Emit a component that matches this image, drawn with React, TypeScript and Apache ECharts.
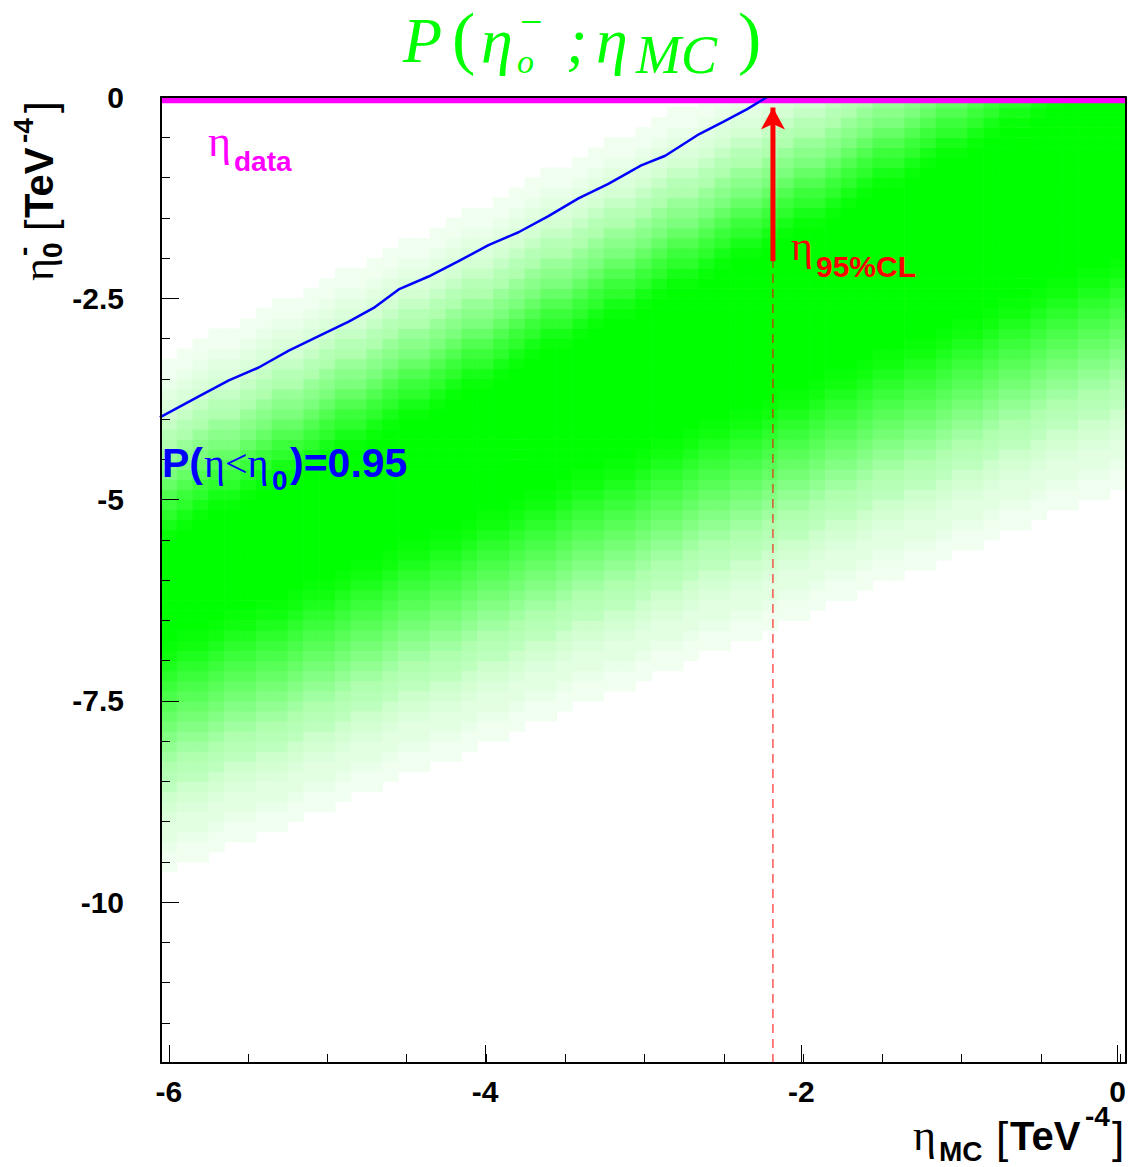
import React, { useEffect, useRef } from "react";
import * as echarts from "echarts";

// ---- axis ranges ----
const X_MIN = -6.05;
const X_MAX = 0.05;
const Y_MIN = -12;
const Y_MAX = 0;

// ---- histogram binning ----
const X_BIN = 0.1;
const Y_BIN = 0.125;
const N_COLS = 61;
const N_ROWS = 96;

// saturated core of the band, per eta_MC column (row indices, 0 = bottom row)
const coreTopRow = [
  51, 52, 53, 54, 54, 55, 56, 57, 57, 58,
  59, 60, 60, 61, 62, 63, 63, 64, 65, 66,
  66, 67, 68, 69, 70, 70, 71, 72, 73, 73,
  74, 75, 76, 76, 77, 78, 79, 79, 80, 81,
  82, 82, 83, 84, 85, 86, 86, 87, 88, 89,
  89, 90, 91, 92, 92, 93, 94, 95, 95, 95, 95,
];
const coreBottomRow = [
  42, 43, 43, 44, 45, 45, 46, 46, 47, 48,
  48, 49, 50, 50, 51, 52, 52, 53, 53, 54,
  55, 55, 56, 57, 57, 58, 59, 59, 60, 60,
  61, 62, 62, 63, 64, 64, 65, 65, 66, 67,
  67, 68, 69, 69, 70, 71, 71, 72, 72, 73,
  74, 74, 75, 76, 76, 77, 78, 78, 79, 79, 80,
];
// colour level (base-36 digit, 0 = white .. z = full green) of the rows above / below the core
const upperFade = "ywtroligeba8654322";
const lowerFade = "yxvtrpnljhfdba976544322";

// 95% quantile curve P(eta < eta0) = 0.95
const quantileX = [-6.057, -5.811, -5.621, -5.432, -5.242, -5.053, -4.863, -4.705, -4.547, -4.358, -4.168, -3.979, -3.789, -3.6, -3.41, -3.221, -3.013, -2.861, -2.646, -2.495, -2.343, -2.217];
const quantileY = [-3.98, -3.72, -3.52, -3.36, -3.15, -2.97, -2.79, -2.62, -2.39, -2.23, -2.04, -1.84, -1.68, -1.48, -1.26, -1.08, -0.85, -0.73, -0.46, -0.31, -0.15, 0.0];

const etaData = -0.04;
const eta95 = -2.18;
const eta95ArrowBase = -2.04;
const eta95ArrowHead = -0.13;

const xMajorTicks = [-6, -4, -2, 0];
const xMinorTicks = [-6, -5.5, -5, -4.5, -4, -3.5, -3, -2.5, -2, -1.5, -1, -0.5, 0];
const yMajorTicks = [0, -2.5, -5, -7.5, -10];
const yMinorTicks = [0, -0.5, -1, -1.5, -2, -2.5, -3, -3.5, -4, -4.5, -5, -5.5, -6, -6.5, -7, -7.5, -8, -8.5, -9, -9.5, -10, -10.5, -11, -11.5, -12];

const SANS = '"Liberation Sans", Arial, sans-serif';
const SERIF = '"Liberation Serif", "Times New Roman", serif';
const FULL = 35;

function buildCells(): number[][] {
  const cells: number[][] = [];
  for (let j = 0; j < N_COLS; j++) {
    const xc = -6 + j * X_BIN;
    for (let i = 0; i < N_ROWS; i++) {
      const yc = Y_MIN + (i + 0.5) * Y_BIN;
      let lvl = 0;
      if (i >= coreBottomRow[j] && i <= coreTopRow[j]) lvl = FULL;
      else if (i > coreTopRow[j]) {
        const k = i - coreTopRow[j] - 1;
        lvl = k < upperFade.length ? parseInt(upperFade[k], 36) : 0;
      } else {
        const k = coreBottomRow[j] - i - 1;
        lvl = k < lowerFade.length ? parseInt(lowerFade[k], 36) : 0;
      }
      if (lvl > 0) cells.push([xc, yc, lvl]);
    }
  }
  return cells;
}

function txt(x: number, base: number, text: string, size: number, color: string, family: string, weight = "normal", style = "normal", align = "left") {
  return {
    type: "text",
    x,
    y: base - 0.34 * size,
    z: 100,
    silent: true,
    style: {
      text,
      fill: color,
      font: `${style} ${weight} ${size}px ${family}`,
      textAlign: align,
      align,
      textVerticalAlign: "middle",
      verticalAlign: "middle",
    },
  };
}

export default function App() {
  const ref = useRef<HTMLDivElement>(null);
  useEffect(() => {
    if (!ref.current) return;
    const chart = echarts.init(ref.current, undefined, { renderer: "svg" });
    const cells = buildCells();
    const quantile = quantileX.map((x, k) => [x, quantileY[k]]);

    const xCommon = { min: X_MIN, max: X_MAX, type: "value", z: 10, splitLine: { show: false } };
    const yCommon = { min: Y_MIN, max: Y_MAX, type: "value", z: 10, splitLine: { show: false } };
    const frameLine = { show: true, onZero: false, lineStyle: { color: "#000", width: 2 } };
    const hiddenLine = { show: false, onZero: false };
    const labelStyle = { color: "#000", fontSize: 30, fontWeight: "bold", fontFamily: SANS, formatter: (v: number) => String(v) };
    const gridRect = { left: 161, top: 97, width: 967, height: 966, show: false };

    const option: any = {
      animation: false,
      backgroundColor: "#ffffff",
      grid: [gridRect, { ...gridRect }],
      xAxis: [
        {
          ...xCommon,
          gridIndex: 0,
          position: "bottom",
          axisLine: frameLine,
          axisTick: { show: true, inside: true, length: 18, customValues: xMajorTicks, lineStyle: { color: "#000", width: 1 } },
          axisLabel: { show: true, customValues: xMajorTicks, margin: 13, ...labelStyle },
        },
        {
          ...xCommon,
          gridIndex: 0,
          position: "top",
          axisLine: frameLine,
          axisTick: { show: false },
          axisLabel: { show: false },
        },
        {
          ...xCommon,
          gridIndex: 1,
          position: "bottom",
          axisLine: hiddenLine,
          axisTick: { show: true, inside: true, length: 9, customValues: xMinorTicks, lineStyle: { color: "#000", width: 1 } },
          axisLabel: { show: false },
        },
      ],
      yAxis: [
        {
          ...yCommon,
          gridIndex: 0,
          position: "left",
          axisLine: frameLine,
          axisTick: { show: true, inside: true, length: 18, customValues: yMajorTicks, lineStyle: { color: "#000", width: 1 } },
          axisLabel: { show: true, customValues: yMajorTicks, margin: 37, ...labelStyle },
        },
        {
          ...yCommon,
          gridIndex: 0,
          position: "right",
          axisLine: frameLine,
          axisTick: { show: false },
          axisLabel: { show: false },
        },
        {
          ...yCommon,
          gridIndex: 1,
          position: "left",
          axisLine: hiddenLine,
          axisTick: { show: true, inside: true, length: 9, customValues: yMinorTicks, lineStyle: { color: "#000", width: 1 } },
          axisLabel: { show: false },
        },
      ],
      series: [
        {
          type: "custom",
          coordinateSystem: "cartesian2d",
          xAxisIndex: 0,
          yAxisIndex: 0,
          data: cells,
          encode: { x: 0, y: 1 },
          clip: true,
          silent: true,
          z: 1,
          renderItem: (_p: any, api: any) => {
            const x = api.value(0);
            const y = api.value(1);
            const lvl = api.value(2);
            const a = api.coord([x - X_BIN / 2, y + Y_BIN / 2]);
            const b = api.coord([x + X_BIN / 2, y - Y_BIN / 2]);
            const c = Math.round(255 * (1 - lvl / FULL));
            return {
              type: "rect",
              shape: { x: a[0], y: a[1], width: b[0] - a[0] + 0.6, height: b[1] - a[1] + 0.6 },
              style: { fill: `rgb(${c},255,${c})` },
            };
          },
        },
        {
          type: "line",
          xAxisIndex: 0,
          yAxisIndex: 0,
          data: [[eta95, Y_MIN], [eta95, eta95ArrowBase]],
          symbol: "none",
          silent: true,
          z: 3,
          lineStyle: { color: "#ff0000", width: 1, type: [9, 6] },
        },
        {
          type: "line",
          xAxisIndex: 0,
          yAxisIndex: 0,
          data: [[X_MIN, etaData], [X_MAX, etaData]],
          symbol: "none",
          silent: true,
          z: 4,
          lineStyle: { color: "#ff00ff", width: 6 },
        },
        {
          type: "line",
          xAxisIndex: 0,
          yAxisIndex: 0,
          data: quantile,
          symbol: "none",
          silent: true,
          z: 5,
          lineStyle: { color: "#0000ff", width: 2.5 },
        },
        {
          type: "line",
          xAxisIndex: 0,
          yAxisIndex: 0,
          data: [
            { value: [eta95, eta95ArrowBase], symbol: "none" },
            { value: [eta95, eta95ArrowHead], symbol: "arrow", symbolSize: [18, 22] },
          ],
          showSymbol: true,
          silent: true,
          z: 6,
          itemStyle: { color: "#ff0000" },
          lineStyle: { color: "#ff0000", width: 5 },
        },
      ],
      graphic: [
        // title
        txt(403, 62, "P", 64, "#00ff00", SERIF, "normal", "italic"),
        txt(452, 61, "(", 70, "#00ff00", SERIF),
        txt(481, 62, "η", 64, "#00ff00", SERIF, "normal", "italic"),
        txt(517, 73, "o", 34, "#00ff00", SERIF, "normal", "italic"),
        txt(520, 35, "−", 40, "#00ff00", SERIF),
        txt(566, 62, ";", 64, "#00ff00", SERIF, "normal", "italic"),
        txt(596, 62, "η", 64, "#00ff00", SERIF, "normal", "italic"),
        txt(636, 73, "MC", 54, "#00ff00", SERIF, "normal", "italic"),
        txt(738, 61, ")", 70, "#00ff00", SERIF),
        // y axis title (rotated)
        {
          type: "group",
          x: 53,
          y: 281,
          rotation: Math.PI / 2,
          children: [
            txt(0, 0, "η", 44, "#000", SERIF),
            txt(23, 9, "0", 28, "#000", SANS, "bold"),
            txt(25, -20, "-", 28, "#000", SANS, "bold"),
            txt(50, 2, "[", 42, "#000", SANS),
            txt(63, 0, "TeV", 40, "#000", SANS, "bold"),
            txt(138, -20, "-4", 28, "#000", SANS, "bold"),
            txt(168, 2, "]", 42, "#000", SANS),
          ],
        },
        // x axis title
        txt(913, 1150, "η", 44, "#000", SERIF),
        txt(939, 1161, "MC", 28, "#000", SANS, "bold"),
        txt(996, 1152, "[", 44, "#000", SANS),
        txt(1010, 1150, "TeV", 40, "#000", SANS, "bold"),
        txt(1085, 1126, "-4", 28, "#000", SANS, "bold"),
        txt(1112, 1152, "]", 44, "#000", SANS),
        // eta_data
        txt(208, 156, "η", 44, "#ff00ff", SERIF),
        txt(234, 171, "data", 28, "#ff00ff", SANS, "bold"),
        // eta_95%CL
        txt(791, 260, "η", 42, "#ff0000", SERIF),
        txt(816, 277, "95%CL", 30, "#ff0000", SANS, "bold"),
        // quantile label
        txt(162, 477, "P(", 41, "#0000ff", SANS, "bold"),
        txt(204, 477, "η<η", 40, "#0000ff", SERIF),
        txt(272, 490, "0", 28, "#0000ff", SANS, "bold"),
        txt(290, 477, ")=0.95", 41, "#0000ff", SANS, "bold"),
      ],
    };
    chart.setOption(option);
    return () => chart.dispose();
  }, []);
  return <div ref={ref} style={{ position: "absolute", left: 0, top: 0, width: 1129, height: 1167, background: "#fff" }} />;
}
